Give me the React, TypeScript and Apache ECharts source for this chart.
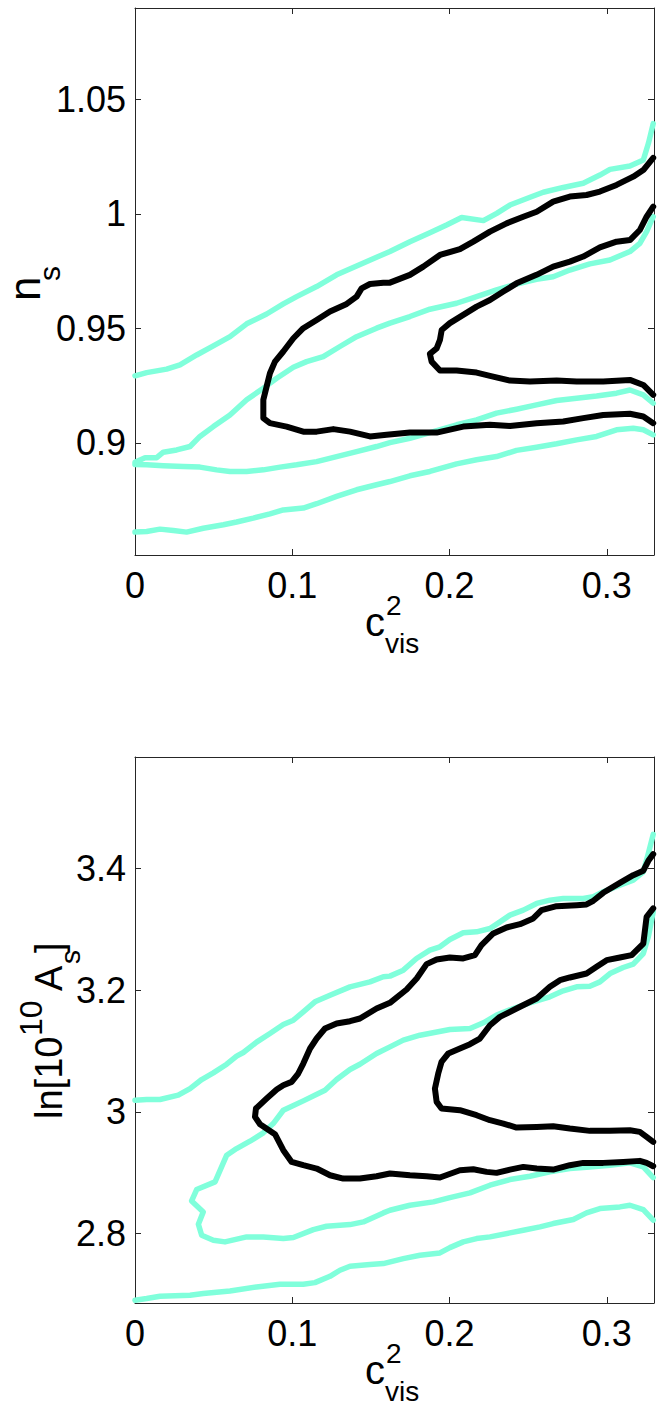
import React, { useEffect, useRef } from "react";
import * as echarts from "echarts";

const FONT = "'Liberation Sans', Arial, Helvetica, sans-serif";
const CYAN = "#80ffdb";
const BLACK = "#000000";
const FRAME = "#262626";

// ---- axes ----
const xTicks = [0, 0.1, 0.2, 0.3];
const xTickLabels = ["0", "0.1", "0.2", "0.3"];
const xRange = [0, 0.33];

const topYTicks = [0.9, 0.95, 1, 1.05];
const topYTickLabels = ["0.9", "0.95", "1", "1.05"];
const topYRange = [0.851, 1.09];

const botYTicks = [2.8, 3, 3.2, 3.4];
const botYTickLabels = ["2.8", "3", "3.2", "3.4"];
const botYRange = [2.686, 3.583];

// ---- top panel (n_s vs c_vis^2) ----
const topCyanOuterUpper = [
  [0, 0.9293], [0.0074, 0.9307], [0.0201, 0.9322], [0.0286, 0.9341], [0.0392, 0.9384],
  [0.0498, 0.9424], [0.0604, 0.9464], [0.071, 0.952], [0.0837, 0.9563], [0.0943, 0.9607],
  [0.1028, 0.9639], [0.1155, 0.9683], [0.1282, 0.9734], [0.1409, 0.9773], [0.1536, 0.9811],
  [0.1621, 0.9836], [0.1748, 0.9879], [0.1875, 0.9918], [0.1981, 0.9952], [0.2077, 0.9985],
  [0.2215, 0.9971], [0.23, 1.0003], [0.2384, 1.0039], [0.2512, 1.0073], [0.2596, 1.0095],
  [0.2723, 1.0116], [0.285, 1.0134], [0.2956, 1.017], [0.302, 1.0195], [0.3147, 1.021],
  [0.3232, 1.0236], [0.3265, 1.031], [0.3295, 1.0395],
];
const topCyanOuterLower = [
  [0, 0.861], [0.0074, 0.8613], [0.0159, 0.8623], [0.0244, 0.8617], [0.0328, 0.861],
  [0.0434, 0.8627], [0.0562, 0.8642], [0.0646, 0.8654], [0.0752, 0.8671], [0.0858, 0.869],
  [0.0943, 0.8707], [0.107, 0.8715], [0.1155, 0.8734], [0.1282, 0.8766], [0.1409, 0.8795],
  [0.1536, 0.8817], [0.1621, 0.8831], [0.1748, 0.8856], [0.1875, 0.8875], [0.2045, 0.8908],
  [0.2172, 0.8926], [0.2299, 0.894], [0.2426, 0.8967], [0.2553, 0.8981], [0.2681, 0.8996],
  [0.2808, 0.9013], [0.2935, 0.9028], [0.3062, 0.9057], [0.3168, 0.9064], [0.3232, 0.9057],
  [0.3295, 0.9035],
];
const topCyanInnerUpper = [
  [0, 0.8915], [0.0064, 0.8935], [0.0138, 0.8935], [0.018, 0.8959], [0.0265, 0.8969],
  [0.035, 0.8984], [0.0413, 0.9028], [0.0498, 0.9071], [0.0604, 0.9122], [0.071, 0.9188],
  [0.0816, 0.9239], [0.0901, 0.9282], [0.1007, 0.933], [0.1091, 0.9355], [0.1197, 0.9377],
  [0.1303, 0.9421], [0.1409, 0.9464], [0.1536, 0.9501], [0.1621, 0.9523], [0.1748, 0.9552],
  [0.1875, 0.9584], [0.2045, 0.961], [0.2172, 0.9639], [0.2299, 0.9668], [0.2426, 0.9694],
  [0.2553, 0.9715], [0.2659, 0.9726], [0.2765, 0.9755], [0.2892, 0.9782], [0.302, 0.9799],
  [0.3147, 0.9836], [0.321, 0.9872], [0.3253, 0.9923], [0.3295, 0.9988],
];
const topCyanInnerLower = [
  [0, 0.8905], [0.0074, 0.8904], [0.018, 0.89], [0.0307, 0.8897], [0.0413, 0.8894],
  [0.0519, 0.8882], [0.0604, 0.8875], [0.071, 0.8875], [0.0816, 0.8882], [0.0922, 0.8894],
  [0.1028, 0.8904], [0.1155, 0.8918], [0.1282, 0.894], [0.1409, 0.8962], [0.1536, 0.8984],
  [0.1621, 0.9001], [0.1748, 0.902], [0.1875, 0.9045], [0.2045, 0.9079], [0.2172, 0.91],
  [0.2299, 0.913], [0.2426, 0.9147], [0.2553, 0.9166], [0.2681, 0.9185], [0.2808, 0.9195],
  [0.2935, 0.9205], [0.3062, 0.9217], [0.3147, 0.9231], [0.3232, 0.921], [0.3295, 0.9173],
];
const topBlackOuterUpper = [
  [0.0816, 0.9108], [0.0816, 0.9188], [0.0837, 0.9246], [0.0858, 0.9304], [0.089, 0.9355],
  [0.0943, 0.9399], [0.1007, 0.9457], [0.107, 0.9501], [0.1155, 0.9537], [0.124, 0.9574],
  [0.1346, 0.9607], [0.1409, 0.9639], [0.1441, 0.9675], [0.1494, 0.9694], [0.1579, 0.97],
  [0.1621, 0.97], [0.1748, 0.9734], [0.1833, 0.977], [0.1939, 0.9821], [0.2066, 0.9846],
  [0.2151, 0.9879], [0.2257, 0.9923], [0.2363, 0.9959], [0.2469, 0.9988], [0.2554, 1.001],
  [0.2659, 1.0054], [0.2765, 1.0076], [0.2871, 1.0083], [0.2956, 1.0098], [0.3062, 1.0127],
  [0.3168, 1.0163], [0.3232, 1.0192], [0.3295, 1.0245],
];
const topBlackOuterLower = [
  [0.0816, 0.9108], [0.0858, 0.9086], [0.0964, 0.9071], [0.107, 0.9049], [0.1155, 0.9049],
  [0.1261, 0.906], [0.1367, 0.9049], [0.1494, 0.9028], [0.16, 0.9035], [0.1748, 0.9045],
  [0.1918, 0.9045], [0.2087, 0.9071], [0.2257, 0.9079], [0.2384, 0.9074], [0.2554, 0.9086],
  [0.2723, 0.9093], [0.285, 0.9108], [0.2977, 0.9122], [0.3147, 0.9127], [0.3232, 0.9115],
  [0.3295, 0.9086],
];
const topBlackInnerUpper = [
  [0.1875, 0.9389], [0.1918, 0.9413], [0.1939, 0.945], [0.195, 0.9493], [0.2002, 0.9523],
  [0.2087, 0.9559], [0.2172, 0.9595], [0.2257, 0.9624], [0.2342, 0.9661], [0.2426, 0.9697],
  [0.2553, 0.9734], [0.2659, 0.977], [0.2765, 0.9792], [0.285, 0.9814], [0.2956, 0.9854],
  [0.3062, 0.9879], [0.3147, 0.9886], [0.321, 0.993], [0.3253, 0.9988], [0.3295, 1.0032],
];
const topBlackInnerLower = [
  [0.1875, 0.9389], [0.1886, 0.9355], [0.1939, 0.9316], [0.2045, 0.9316], [0.2172, 0.9307],
  [0.2257, 0.9293], [0.2384, 0.9272], [0.2511, 0.9268], [0.2681, 0.9272], [0.2808, 0.9268],
  [0.2977, 0.9268], [0.3147, 0.9275], [0.3232, 0.9253], [0.3295, 0.921],
];

// ---- bottom panel (ln[10^10 A_s] vs c_vis^2) ----
const botCyanOuterUpper = [
  [0, 3.0192], [0.0074, 3.0203], [0.0159, 3.0203], [0.0275, 3.0274], [0.035, 3.0383],
  [0.0424, 3.0531], [0.0498, 3.0641], [0.0583, 3.0783], [0.0646, 3.0915], [0.0689, 3.0975],
  [0.0773, 3.1145], [0.0858, 3.1287], [0.0943, 3.1435], [0.1007, 3.1506], [0.107, 3.1643],
  [0.1144, 3.1808], [0.124, 3.1917], [0.1367, 3.2054], [0.1494, 3.2136], [0.1579, 3.2219],
  [0.1621, 3.223], [0.1706, 3.2328], [0.179, 3.252], [0.1875, 3.2657], [0.1939, 3.2712],
  [0.2002, 3.2832], [0.2087, 3.2942], [0.2172, 3.2958], [0.2257, 3.3013], [0.2321, 3.3122],
  [0.2384, 3.3232], [0.2469, 3.3314], [0.2554, 3.3424], [0.2638, 3.3478], [0.2723, 3.3506],
  [0.285, 3.3506], [0.2914, 3.3533], [0.2977, 3.3615], [0.3083, 3.3725], [0.3168, 3.3807],
  [0.3232, 3.3944], [0.3264, 3.4245], [0.3295, 3.456],
];
const botCyanOuterLower = [
  [0, 2.6905], [0.0074, 2.6933], [0.0159, 2.6971], [0.035, 2.6987], [0.0434, 2.7015],
  [0.0604, 2.7058], [0.0773, 2.7124], [0.0922, 2.7168], [0.107, 2.7168], [0.1144, 2.7195],
  [0.124, 2.7299], [0.1303, 2.7398], [0.1367, 2.7464], [0.1494, 2.7491], [0.1579, 2.7508],
  [0.1706, 2.7589], [0.1812, 2.7645], [0.1939, 2.7683], [0.2002, 2.777], [0.2087, 2.7864],
  [0.2172, 2.7918], [0.2257, 2.7946], [0.2384, 2.8012], [0.2469, 2.8055], [0.2575, 2.811],
  [0.2659, 2.8165], [0.2787, 2.8231], [0.2871, 2.834], [0.2956, 2.8411], [0.3083, 2.8439],
  [0.3147, 2.8466], [0.3232, 2.8395], [0.3295, 2.822],
];
const botCyanInnerUpper = [
  [0.036, 2.8537], [0.0392, 2.8724], [0.0509, 2.885], [0.0583, 2.9288], [0.0646, 2.9397],
  [0.0731, 2.9518], [0.0816, 2.9655], [0.0879, 2.9808], [0.0943, 3.0027], [0.107, 3.0181],
  [0.1208, 3.0356], [0.1282, 3.0531], [0.1367, 3.0696], [0.143, 3.0783], [0.1536, 3.0959],
  [0.1621, 3.1068], [0.1706, 3.1178], [0.1812, 3.126], [0.2002, 3.1353], [0.213, 3.1369],
  [0.2215, 3.1463], [0.2299, 3.1589], [0.2405, 3.1698], [0.2511, 3.1791], [0.2638, 3.189],
  [0.2723, 3.1988], [0.2808, 3.2054], [0.2892, 3.2065], [0.2956, 3.2136], [0.302, 3.2273],
  [0.3104, 3.2372], [0.3168, 3.2427], [0.3232, 3.2602], [0.3264, 3.2876], [0.3295, 3.3287],
];
const botCyanInnerLower = [
  [0.036, 2.8537], [0.0434, 2.8357], [0.0403, 2.8154], [0.0424, 2.7973], [0.0498, 2.7891],
  [0.0572, 2.7864], [0.071, 2.7946], [0.0816, 2.7946], [0.0943, 2.7918], [0.1007, 2.7935],
  [0.1134, 2.8066], [0.1218, 2.8121], [0.1367, 2.8148], [0.1452, 2.8192], [0.1579, 2.834],
  [0.1621, 2.8384], [0.1748, 2.8466], [0.1897, 2.8521], [0.2002, 2.8592], [0.213, 2.8669],
  [0.2257, 2.8795], [0.2384, 2.8888], [0.2511, 2.8943], [0.2638, 2.9014], [0.2765, 2.9069],
  [0.2892, 2.9096], [0.302, 2.9124], [0.3147, 2.9162], [0.3232, 2.9096], [0.3295, 2.8921],
];
const botBlackOuterUpper = [
  [0.0763, 2.9918], [0.0769, 3.0055], [0.0837, 3.0219], [0.0901, 3.0367], [0.0943, 3.0438],
  [0.0996, 3.0493], [0.1038, 3.063], [0.107, 3.0794], [0.1113, 3.1041], [0.1155, 3.1205],
  [0.1208, 3.1369], [0.1282, 3.1452], [0.1367, 3.149], [0.143, 3.1534], [0.1536, 3.1698],
  [0.1621, 3.1791], [0.1727, 3.201], [0.1791, 3.2191], [0.1854, 3.2427], [0.1918, 3.2503],
  [0.2002, 3.2536], [0.2087, 3.252], [0.2161, 3.2575], [0.2203, 3.2739], [0.2278, 3.2931],
  [0.2363, 3.3029], [0.2448, 3.3084], [0.2532, 3.3177], [0.2585, 3.3314], [0.2681, 3.338],
  [0.2808, 3.3396], [0.2871, 3.3407], [0.2914, 3.3468], [0.2977, 3.3599], [0.3083, 3.3763],
  [0.3168, 3.3889], [0.3232, 3.3961], [0.3264, 3.4125], [0.3295, 3.4234],
];
const botBlackOuterLower = [
  [0.0763, 2.9918], [0.0795, 2.9797], [0.089, 2.9633], [0.0943, 2.937], [0.0996, 2.9178],
  [0.107, 2.9124], [0.1155, 2.9069], [0.124, 2.8959], [0.1324, 2.8904], [0.143, 2.8904],
  [0.1536, 2.8943], [0.1621, 2.8987], [0.1748, 2.8959], [0.1854, 2.8943], [0.1939, 2.8921],
  [0.2066, 2.9041], [0.2151, 2.9058], [0.2236, 2.9014], [0.2299, 2.8998], [0.2384, 2.9052],
  [0.2469, 2.9096], [0.2554, 2.9069], [0.2659, 2.9052], [0.2765, 2.9124], [0.285, 2.9162],
  [0.2977, 2.9162], [0.3104, 2.9178], [0.321, 2.9195], [0.3253, 2.9162], [0.3295, 2.9107],
];
const botBlackInnerUpper = [
  [0.1907, 3.0383], [0.1928, 3.063], [0.1949, 3.0822], [0.1992, 3.0959], [0.2066, 3.1041],
  [0.213, 3.1112], [0.2193, 3.1205], [0.2257, 3.1424], [0.232, 3.1561], [0.2426, 3.1698],
  [0.2554, 3.1863], [0.2638, 3.2054], [0.2702, 3.2164], [0.2765, 3.2208], [0.2871, 3.2273],
  [0.2935, 3.2383], [0.2999, 3.2492], [0.3083, 3.2536], [0.3158, 3.2575], [0.3232, 3.2766],
  [0.3253, 3.3205], [0.3295, 3.3342],
];
const botBlackInnerLower = [
  [0.1907, 3.0383], [0.1918, 3.0164], [0.1949, 3.0055], [0.2066, 3.0027], [0.2172, 2.9945],
  [0.2257, 2.9863], [0.2342, 2.9808], [0.2426, 2.9743], [0.2554, 2.9753], [0.2659, 2.9764],
  [0.2765, 2.9726], [0.2892, 2.9688], [0.302, 2.9688], [0.3147, 2.9699], [0.321, 2.9671],
  [0.3253, 2.9589], [0.3295, 2.9507],
];

// join an upper and a lower branch that meet at their left tip
const loop = (upper: number[][], lower: number[][]) => [...upper.slice().reverse(), ...lower];

const pickLabel = (ticks: number[], labels: string[]) => (v: number) => {
  const i = ticks.findIndex((t) => Math.abs(t - v) < 1e-9);
  return i >= 0 ? labels[i] : "";
};

const tickStyle = { show: true, inside: true, length: 6, lineStyle: { color: FRAME, width: 1 } };
const lineStyleAxis = { show: true, onZero: false, lineStyle: { color: FRAME, width: 1 } };
const labelStyle = { color: "#000", fontSize: 36, fontFamily: FONT };

function xAxesFor(gridIndex: number) {
  return [
    {
      type: "value", gridIndex, position: "bottom", min: xRange[0], max: xRange[1],
      axisLine: lineStyleAxis, splitLine: { show: false },
      axisTick: { ...tickStyle, customValues: xTicks },
      axisLabel: { ...labelStyle, margin: 12, customValues: xTicks, formatter: pickLabel(xTicks, xTickLabels) },
    },
    {
      type: "value", gridIndex, position: "top", min: xRange[0], max: xRange[1],
      axisLine: lineStyleAxis, splitLine: { show: false },
      axisTick: { ...tickStyle, customValues: xTicks }, axisLabel: { show: false },
    },
  ];
}
function yAxesFor(gridIndex: number, range: number[], ticks: number[], labels: string[]) {
  return [
    {
      type: "value", gridIndex, position: "left", min: range[0], max: range[1],
      axisLine: lineStyleAxis, splitLine: { show: false },
      axisTick: { ...tickStyle, customValues: ticks },
      axisLabel: { ...labelStyle, margin: 9, customValues: ticks, formatter: pickLabel(ticks, labels) },
    },
    {
      type: "value", gridIndex, position: "right", min: range[0], max: range[1],
      axisLine: lineStyleAxis, splitLine: { show: false },
      axisTick: { ...tickStyle, customValues: ticks }, axisLabel: { show: false },
    },
  ];
}

function line(name: string, data: number[][], color: string, width: number, axisIdx: number) {
  return {
    name, type: "line", data, xAxisIndex: axisIdx, yAxisIndex: axisIdx,
    showSymbol: false, symbol: "none", smooth: false, clip: true, silent: true,
    lineStyle: { color, width, cap: "round", join: "round" },
  };
}

const B = 0.3465; // baseline offset from the central baseline (em fraction)
function txt(text: string, x: number, baseline: number, size: number) {
  return {
    type: "text", x, y: baseline - B * size, silent: true,
    style: { text, fontSize: size, fontFamily: FONT, fill: "#000", textAlign: "left", textVerticalAlign: "middle", verticalAlign: "middle" },
  };
}

function xTitle(dy: number) {
  return [
    txt("c", 365, 636 + dy, 40),
    txt("2", 386, 615 + dy, 28),
    txt("vis", 385, 653 + dy, 28),
  ];
}

const CW = 5.5; // cyan width
const KW = 6; // black width

export default function App() {
  const ref = useRef<HTMLDivElement>(null);
  useEffect(() => {
    if (!ref.current) return;
    const chart = echarts.init(ref.current, null, { renderer: "svg" });
    const option = {
      animation: false,
      backgroundColor: "#ffffff",
      grid: [
        { left: 135, top: 8, width: 519, height: 547, containLabel: false },
        { left: 135, top: 757, width: 519, height: 546, containLabel: false },
      ],
      xAxis: [...xAxesFor(0), ...xAxesFor(1)],
      yAxis: [
        ...yAxesFor(0, topYRange, topYTicks, topYTickLabels),
        ...yAxesFor(1, botYRange, botYTicks, botYTickLabels),
      ],
      series: [
        line("top cyan 95 upper", topCyanOuterUpper, CYAN, CW, 0),
        line("top cyan 95 lower", topCyanOuterLower, CYAN, CW, 0),
        line("top cyan 68", loop(topCyanInnerUpper, topCyanInnerLower), CYAN, CW, 0),
        line("top black 95", loop(topBlackOuterUpper, topBlackOuterLower), BLACK, KW, 0),
        line("top black 68", loop(topBlackInnerUpper, topBlackInnerLower), BLACK, KW, 0),
        line("bottom cyan 95 upper", botCyanOuterUpper, CYAN, CW, 2),
        line("bottom cyan 95 lower", botCyanOuterLower, CYAN, CW, 2),
        line("bottom cyan 68", loop(botCyanInnerUpper, botCyanInnerLower), CYAN, CW, 2),
        line("bottom black 95", loop(botBlackOuterUpper, botBlackOuterLower), BLACK, KW, 2),
        line("bottom black 68", loop(botBlackInnerUpper, botBlackInnerLower), BLACK, KW, 2),
      ],
      graphic: [
        ...xTitle(0),
        ...xTitle(748),
        {
          type: "group", x: 40, y: 298, rotation: Math.PI / 2, silent: true,
          children: [txt("n", -3, 0, 44), txt("s", 17, 20, 30)],
        },
        {
          type: "group", x: 62, y: 1118, rotation: Math.PI / 2, silent: true,
          children: [
            txt("ln[10", -1, 0, 38),
            txt("10", 82, -20, 32),
            txt("A", 127, 0, 38),
            txt("s", 154, 18, 28),
            txt("]", 165, 0, 38),
          ],
        },
      ],
    };
    chart.setOption(option as any);
    return () => chart.dispose();
  }, []);
  return (
    <div
      ref={ref}
      style={{ position: "fixed", left: 0, top: 0, width: 664, height: 1409, background: "#fff" }}
    />
  );
}
